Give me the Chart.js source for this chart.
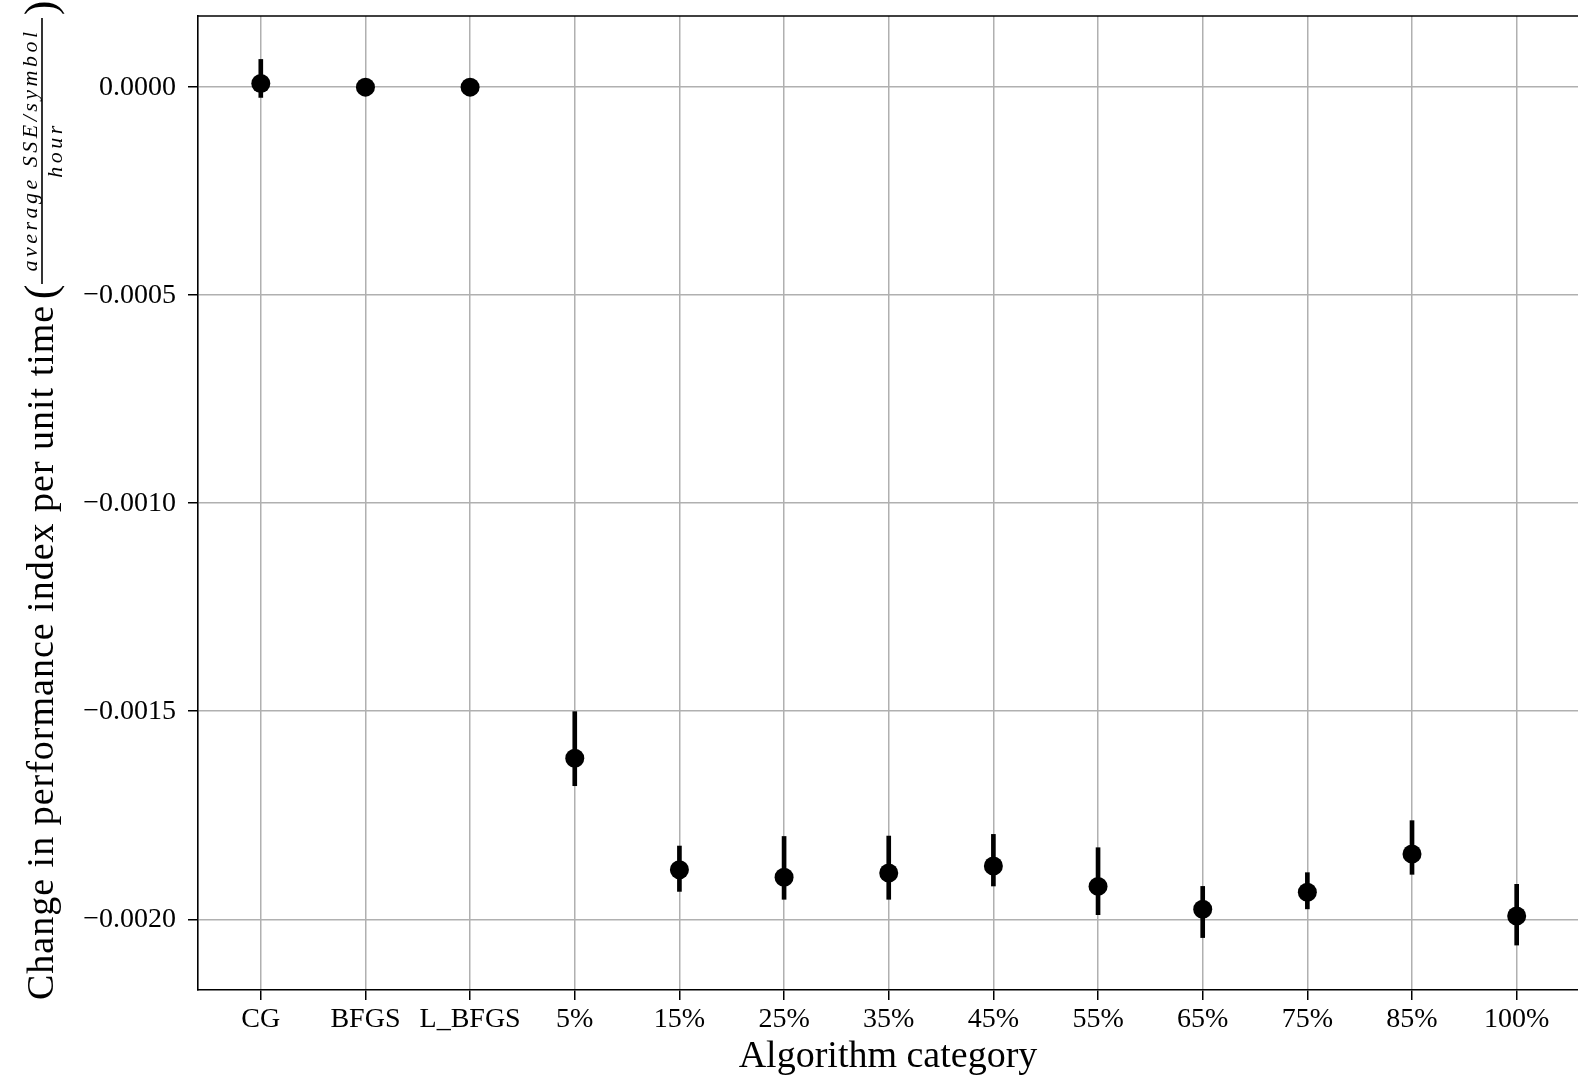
<!DOCTYPE html>
<html>
<head>
<meta charset="utf-8">
<script src="https://cdn.jsdelivr.net/npm/chart.js@4.4.1/dist/chart.umd.min.js"></script>
<style>
  html, body { margin: 0; padding: 0; background: #fff; overflow: hidden; }
  #wrap { width: 1578px; height: 1080px; }
</style>
</head>
<body>
<div id="wrap"><canvas id="chart" width="1578" height="1080"></canvas></div>
<script>
// values
var categories = ['CG', 'BFGS', 'L_BFGS', '5%', '15%', '25%', '35%', '45%', '55%', '65%', '75%', '85%', '100%'];
var means   = [0.0000089, 0, 0, -0.001613, -0.001881, -0.001899, -0.001889, -0.001872, -0.001921, -0.001976, -0.001935, -0.001843, -0.001992];
var errLow  = [-0.0000247, 0, 0, -0.001679, -0.001933, -0.001952, -0.001952, -0.001920, -0.001989, -0.002044, -0.001975, -0.001892, -0.002062];
var errHigh = [0.0000666, 0, 0, -0.001501, -0.001824, -0.001801, -0.001800, -0.001796, -0.001828, -0.001921, -0.001888, -0.001763, -0.001916];
var yTicks  = [0, -0.0005, -0.0010, -0.0015, -0.0020];

var FONT = "'Liberation Serif', 'DejaVu Serif', serif";

function fmtY(v) {
  if (Math.abs(v) < 1e-12) return '0.0000';
  return (v < 0 ? '\u2212' : '') + Math.abs(v).toFixed(4);
}

// top frame line + y-axis title with the fraction
var framePlugin = {
  id: 'frame',
  afterDraw: function (chart) {
    var ctx = chart.ctx, a = chart.chartArea;
    ctx.save();
    ctx.strokeStyle = '#000';
    ctx.lineWidth = 1.6;
    ctx.beginPath();
    ctx.moveTo(a.left, a.top);
    ctx.lineTo(a.right, a.top);
    ctx.stroke();

    ctx.rotate(-Math.PI / 2);
    ctx.fillStyle = '#000';
    ctx.textBaseline = 'alphabetic';
    ctx.textAlign = 'left';
    ctx.font = "38px " + FONT;
    ctx.letterSpacing = '1px';
    ctx.fillText('Change in performance index per unit time', -1000, 53);

    ctx.letterSpacing = '0px';
    ctx.font = "44px " + FONT;
    ctx.textAlign = 'center';
    ctx.fillText('(', -292, 55);
    ctx.fillText(')', -8, 55);

    ctx.font = "italic 22px " + FONT;
    ctx.letterSpacing = '3.5px';
    ctx.fillText('average SSE/symbol', -150, 37);
    ctx.fillText('hour', -150, 62);
    ctx.letterSpacing = '0px';
    ctx.lineWidth = 1.6;
    ctx.beginPath();
    ctx.moveTo(-284, 42);
    ctx.lineTo(-18, 42);
    ctx.stroke();
    ctx.restore();
  }
};

new Chart(document.getElementById('chart'), {
  type: 'scatter',
  data: {
    datasets: [
      {
        type: 'scatter',
        label: 'mean',
        data: categories.map(function (c, i) { return { x: i, y: means[i] }; }),
        pointRadius: 9.5,
        pointBackgroundColor: '#000',
        pointBorderWidth: 0,
        order: 0
      },
      {
        type: 'bar',
        label: 'error',
        data: categories.map(function (c, i) { return { x: i, y: [errLow[i], errHigh[i]] }; }),
        backgroundColor: '#000',
        borderWidth: 0,
        borderSkipped: false,
        barThickness: 4,
        grouped: false,
        order: 1
      }
    ]
  },
  options: {
    responsive: false,
    animation: false,
    devicePixelRatio: 1,
    layout: { autoPadding: false, padding: { left: 0, right: 0, top: 16, bottom: 0 } },
    plugins: { legend: { display: false }, tooltip: { enabled: false } },
    scales: {
      x: {
        type: 'linear',
        min: -0.6,
        max: 12.586,
        offset: false,
        afterFit: function (s) { s.height = 90; s.paddingLeft = 0; s.paddingRight = 0; },
        afterBuildTicks: function (s) {
          s.ticks = categories.map(function (c, i) { return { value: i }; });
        },
        grid: { color: '#b0b0b0', lineWidth: 1.5, tickColor: '#000', tickLength: 10, tickWidth: 1.5, offset: false },
        border: { color: '#000', width: 1.6 },
        ticks: {
          color: '#000',
          padding: 3,
          maxRotation: 0,
          autoSkip: false,
          font: { family: FONT, size: 28 },
          callback: function (v) { return categories[v]; }
        },
        title: {
          display: true,
          text: 'Algorithm category',
          color: '#000',
          font: { family: FONT, size: 38 },
          padding: { top: 0, bottom: 0 }
        }
      },
      y: {
        min: -0.00217,
        max: 0.000171,
        afterFit: function (s) { s.width = 198; s.paddingTop = 0; s.paddingBottom = 0; },
        afterBuildTicks: function (s) {
          s.ticks = yTicks.map(function (v) { return { value: v }; });
        },
        grid: { color: '#b0b0b0', lineWidth: 1.5, tickColor: '#000', tickLength: 10, tickWidth: 1.5 },
        border: { color: '#000', width: 1.6 },
        ticks: {
          color: '#000',
          padding: 12,
          font: { family: FONT, size: 28 },
          callback: function (v) { return fmtY(v); }
        }
      }
    }
  },
  plugins: [framePlugin]
});
</script>
</body>
</html>
